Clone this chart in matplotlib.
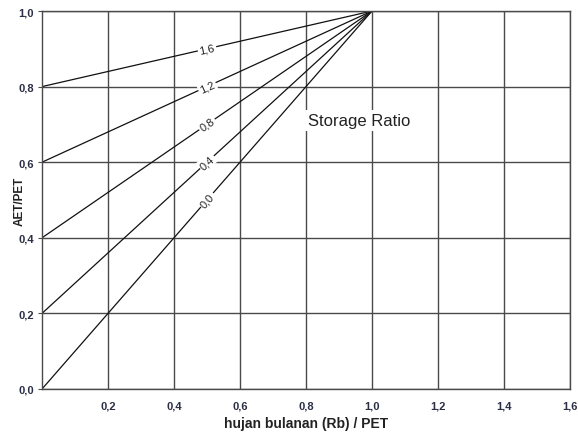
import numpy as np
import matplotlib
matplotlib.use("Agg")
import matplotlib.pyplot as plt

plt.rcParams['font.family'] = ['Liberation Sans', 'DejaVu Sans']

# Storage ratio lines: start value at x=0, all meet at (1.0, 1.0)
ratio_labels = ["1,6", "1,2", "0,8", "0,4", "0,0"]
start_y = [0.8, 0.6, 0.4, 0.2, 0.0]
end_x = 1.0
end_y = 1.0
label_x = 0.5

xticks = [0.2, 0.4, 0.6, 0.8, 1.0, 1.2, 1.4, 1.6]
xtick_labels = ["0,2", "0,4", "0,6", "0,8", "1,0", "1,2", "1,4", "1,6"]
yticks = [0.0, 0.2, 0.4, 0.6, 0.8, 1.0]
ytick_labels = ["0,0", "0,2", "0,4", "0,6", "0,8", "1,0"]

W, H = 578, 435
fig = plt.figure(figsize=(W / 100, H / 100), dpi=100)
ax = fig.add_axes([42 / W, 1 - 390 / H, (570 - 42) / W, (390 - 12) / H])
ax.set_xlim(0, 1.6)
ax.set_ylim(0, 1.0)

grid_color = '#4a4a4a'
for x in xticks:
    ax.axvline(x, color=grid_color, lw=1.0, zorder=1)
for y in yticks:
    ax.axhline(y, color=grid_color, lw=1.0, zorder=1)

for s in ax.spines.values():
    s.set_color(grid_color)
    s.set_linewidth(1.0)

# pixel aspect for text rotation
ax_w_px = 570 - 42
ax_h_px = 390 - 12
for lab, y0 in zip(ratio_labels, start_y):
    ax.plot([0, end_x], [y0, end_y], color='#111111', lw=0.9, zorder=2)
    slope = (end_y - y0) / (end_x - 0)
    ang = np.degrees(np.arctan(slope * (ax_h_px / 1.0) / (ax_w_px / 1.6)))
    ly = y0 + slope * label_x
    ax.text(label_x, ly, lab, rotation=ang, rotation_mode='anchor',
            ha='center', va='center', fontsize=8, color='#222222', zorder=4,
            bbox=dict(boxstyle='square,pad=0.15', fc='white', ec='none'))

ax.text(0.96, 0.71, "Storage Ratio", fontsize=12, color='#222222',
        ha='center', va='center', zorder=4,
        bbox=dict(boxstyle='square,pad=0.2', fc='white', ec='none'))

ax.set_xticks(xticks)
ax.set_xticklabels(xtick_labels)
ax.set_yticks(yticks)
ax.set_yticklabels(ytick_labels)
ax.tick_params(axis='x', length=0, pad=8, labelsize=8, labelcolor='#2a2f45')
ax.tick_params(axis='y', length=3, width=0.8, color=grid_color, pad=3,
               labelsize=8, labelcolor='#2a2f45')
for t in ax.get_xticklabels() + ax.get_yticklabels():
    t.set_fontweight('bold')

ax.set_xlabel("hujan bulanan (Rb) / PET", fontsize=10, fontweight='bold',
              color='#222222')
ax.xaxis.set_label_coords(0.5, -27 / ax_h_px)
ax.set_ylabel("AET/PET", fontsize=8.5, fontweight='bold', color='#222222')
ax.yaxis.set_label_coords(-16 / ax_w_px, 0.5)

fig.savefig("out.png", dpi=100, facecolor='white')
